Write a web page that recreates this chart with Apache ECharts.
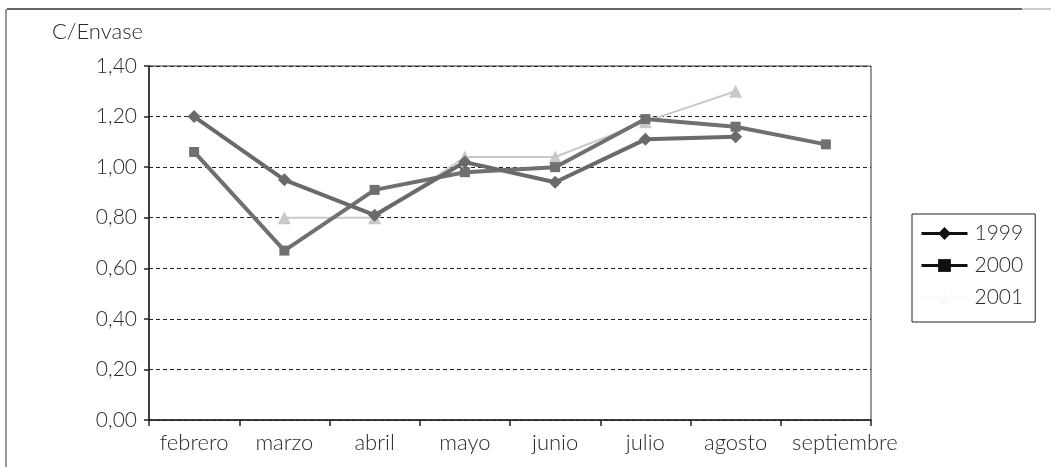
<!DOCTYPE html>
<html>
<head>
<meta charset="utf-8">
<style>
  html, body { margin: 0; padding: 0; background: #fff; }
  #chart { width: 1051px; height: 467px; }
</style>
<script src="https://cdn.jsdelivr.net/npm/echarts@6/dist/echarts.min.js"></script>
</head>
<body>
<div id="chart"></div>
<script>
// Monthly cost per container, three seasons
const months = ['febrero', 'marzo', 'abril', 'mayo', 'junio', 'julio', 'agosto', 'septiembre'];
const yTicks = [0, 0.2, 0.4, 0.6, 0.8, 1.0, 1.2, 1.4];
const v1999 = [1.20, 0.95, 0.81, 1.02, 0.94, 1.11, 1.12, null];
const v2000 = [1.06, 0.67, 0.91, 0.98, 1.00, 1.19, 1.16, 1.09];
const v2001 = [null, 0.80, 0.80, 1.04, 1.04, 1.18, 1.30, null];

const FONT = 'Lato, "Liberation Sans", sans-serif';
const TXT = '#2a2a2a';

const chart = echarts.init(document.getElementById('chart'), null, { renderer: 'canvas' });

chart.setOption({
  backgroundColor: '#fff',
  animation: false,
  grid: {
    left: 149, right: 180, top: 66, bottom: 47,
    show: true, borderColor: '#333', borderWidth: 1, backgroundColor: 'transparent'
  },
  graphic: [
    { type: 'line', shape: { x1: 7, y1: 9, x2: 1022, y2: 9 }, style: { stroke: '#666', lineWidth: 2 } },
    { type: 'line', shape: { x1: 1022, y1: 9, x2: 1051, y2: 9 }, style: { stroke: '#ccc', lineWidth: 2 } },
    { type: 'line', shape: { x1: 6, y1: 9, x2: 6, y2: 467 }, style: { stroke: '#999', lineWidth: 2 } },
    {
      type: 'text', left: 52, top: 21,
      style: { text: 'C/Envase', font: '300 22px ' + FONT, fill: TXT }
    }
  ],
  legend: {
    orient: 'vertical',
    left: 912, top: 214,
    width: 120,
    padding: [9, 12, 14, 8],
    borderColor: '#222', borderWidth: 1,
    itemWidth: 46, itemHeight: 16, itemGap: 11,
    textStyle: { fontFamily: FONT, fontWeight: 300, fontSize: 21, color: TXT, padding: [0, 0, 0, 2] },
    data: [
      { name: '1999', itemStyle: { color: '#111' }, lineStyle: { color: '#111', width: 3 } },
      { name: '2000', itemStyle: { color: '#111' }, lineStyle: { color: '#111', width: 3 } },
      { name: '2001', itemStyle: { color: '#fafafa' }, lineStyle: { color: '#fafafa', width: 2 } }
    ]
  },
  xAxis: {
    type: 'category',
    data: months,
    boundaryGap: true,
    axisLine: { lineStyle: { color: '#222', width: 1.5 } },
    axisTick: { show: true, interval: 0, length: 6, inside: false, lineStyle: { color: '#222', width: 1.5 } },
    axisLabel: {
      fontFamily: FONT, fontWeight: 300, fontSize: 22, color: TXT, margin: 12, interval: 0,
      // the last month's label sits a little to the right of its slot
      formatter: (v, i) => (i === months.length - 1 ? '{last|' + v + '}' : v),
      rich: {
        last: { fontFamily: FONT, fontWeight: 300, fontSize: 22, color: TXT, padding: [0, 0, 0, 38] }
      }
    }
  },
  yAxis: {
    type: 'value',
    min: yTicks[0], max: yTicks[yTicks.length - 1], interval: 0.2,
    axisLine: { show: true, lineStyle: { color: '#222', width: 1.5 } },
    axisTick: { show: true, length: 5, inside: false, lineStyle: { color: '#222', width: 1.5 } },
    axisLabel: {
      fontFamily: FONT, fontWeight: 300, fontSize: 21, color: TXT, margin: 12,
      formatter: v => v.toFixed(2).replace('.', ',')
    },
    splitLine: { show: true, lineStyle: { color: '#222', type: [4, 3], width: 1 } }
  },
  series: [
    {
      name: '1999', type: 'line', data: v1999,
      symbol: 'diamond', symbolSize: 13,
      itemStyle: { color: '#6a6a6a' },
      lineStyle: { color: '#6a6a6a', width: 4 },
      z: 3
    },
    {
      name: '2000', type: 'line', data: v2000,
      symbol: 'rect', symbolSize: 10,
      itemStyle: { color: '#707070' },
      lineStyle: { color: '#707070', width: 4 },
      z: 2
    },
    {
      name: '2001', type: 'line', data: v2001,
      symbol: 'triangle', symbolSize: 13,
      itemStyle: { color: '#c9c9c9' },
      lineStyle: { color: '#c9c9c9', width: 2 },
      z: 1
    }
  ]
});
</script>
</body>
</html>
